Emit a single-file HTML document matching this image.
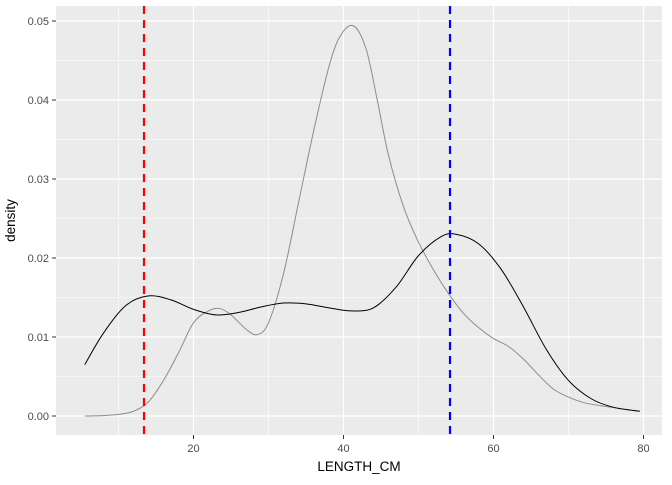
<!DOCTYPE html>
<html><head><meta charset="utf-8"><style>
body{margin:0;background:#fff;}
svg text{font-family:"Liberation Sans",Arial,sans-serif;}
</style></head><body>
<svg id="chart" width="672" height="480" xmlns="http://www.w3.org/2000/svg"></svg>
<script>
const xTicks=[20,40,60,80];
const yTicks=[0,0.01,0.02,0.03,0.04,0.05];
const yTickLabels=["0.00","0.01","0.02","0.03","0.04","0.05"];
const blackX=[5.5,8,11,14,17,20,23,26,29,32,35,38,41,44,47,50,53,55,58,61,64,67,70,73,76,79.5];
const blackY=[0.0065,0.0105,0.014,0.0152,0.0147,0.0135,0.0128,0.0131,0.0138,0.0143,0.0142,0.0137,0.0133,0.0137,0.0163,0.0203,0.0227,0.023,0.0218,0.0186,0.0138,0.0085,0.0045,0.0022,0.0011,0.0006];
const greyX=[5.5,8,10,12,14,16,18,20,22,23.5,25,27,28.5,30,32,34,36,38,39.5,41.3,43,44.5,46,48,50,52,54,56,58,60,62,64,66,68,70,72,75,79.5];
const greyY=[0,0.00005,0.0002,0.0006,0.0018,0.0045,0.008,0.0118,0.0133,0.0136,0.0128,0.011,0.0103,0.0118,0.018,0.027,0.036,0.044,0.048,0.0494,0.0465,0.040,0.033,0.0265,0.022,0.0185,0.0155,0.013,0.0112,0.0098,0.0088,0.0072,0.0052,0.0034,0.0024,0.0017,0.0012,0.0006];
const redLine=13.4, blueLine=54.2;
const L=56,R=662,T=6,B=435;
const sx=v=>43.5+v*7.5;
const sy=v=>416-v*7900;
const svg=document.getElementById('chart');
const NS='http://www.w3.org/2000/svg';
function mk(tag,attrs,parent){const e=document.createElementNS(NS,tag);for(const k in attrs)e.setAttribute(k,attrs[k]);(parent||svg).appendChild(e);return e;}
const bg=mk('rect',{x:L,y:T,width:R-L,height:B-T,fill:'#ebebeb'});


for(let v=10;v<=80;v+=20){const g=mk('line',{x1:sx(v),x2:sx(v),y1:T,y2:B,stroke:'#fff','stroke-width':0.6});

}
for(let v=0.005;v<0.055;v+=0.01){const g=mk('line',{x1:L,x2:R,y1:sy(v),y2:sy(v),stroke:'#fff','stroke-width':0.6});

}
xTicks.forEach(v=>{const g=mk('line',{x1:sx(v),x2:sx(v),y1:T,y2:B,stroke:'#fff','stroke-width':1.2});


const t=mk('line',{x1:sx(v),x2:sx(v),y1:B,y2:B+4,stroke:'#333','stroke-width':1});


const l=mk('text',{x:sx(v),y:B+17,'text-anchor':'middle','font-size':11,fill:'#4d4d4d'});l.textContent=v;

});
yTicks.forEach((v,i)=>{const g=mk('line',{x1:L,x2:R,y1:sy(v),y2:sy(v),stroke:'#fff','stroke-width':1.2});


const t=mk('line',{x1:L-4,x2:L,y1:sy(v),y2:sy(v),stroke:'#333','stroke-width':1});


const l=mk('text',{x:L-7,y:sy(v)+4,'text-anchor':'end','font-size':11,fill:'#4d4d4d'});l.textContent=yTickLabels[i];

});
function curve(xs,ys){const p=xs.map((x,i)=>[sx(x),sy(ys[i])]);let d='M'+p[0][0]+','+p[0][1];
for(let i=0;i<p.length-1;i++){const p0=p[i-1]||p[i],p1=p[i],p2=p[i+1],p3=p[i+2]||p2;
d+=` C${p1[0]+(p2[0]-p0[0])/6},${p1[1]+(p2[1]-p0[1])/6} ${p2[0]-(p3[0]-p1[0])/6},${p2[1]-(p3[1]-p1[1])/6} ${p2[0]},${p2[1]}`;}return d;}
const gc=mk('path',{d:curve(greyX,greyY),fill:'none',stroke:'#8c8c8c','stroke-width':1});


const bc=mk('path',{d:curve(blackX,blackY),fill:'none',stroke:'#000','stroke-width':1});


const rl=mk('line',{x1:sx(redLine),x2:sx(redLine),y1:T,y2:B,stroke:'#ff0000','stroke-width':2.2,'stroke-dasharray':'8,6'});


const bl=mk('line',{x1:sx(blueLine),x2:sx(blueLine),y1:T,y2:B,stroke:'#0000ff','stroke-width':2.2,'stroke-dasharray':'8,6'});


const xt=mk('text',{x:(L+R)/2,y:471,'text-anchor':'middle','font-size':13.5,fill:'#000'});xt.textContent='LENGTH_CM';


const yt=mk('text',{x:0,y:0,transform:`translate(15,${(T+B)/2}) rotate(-90)`,'text-anchor':'middle','font-size':13.5,fill:'#000'});yt.textContent='density';


</script>
</body></html>
